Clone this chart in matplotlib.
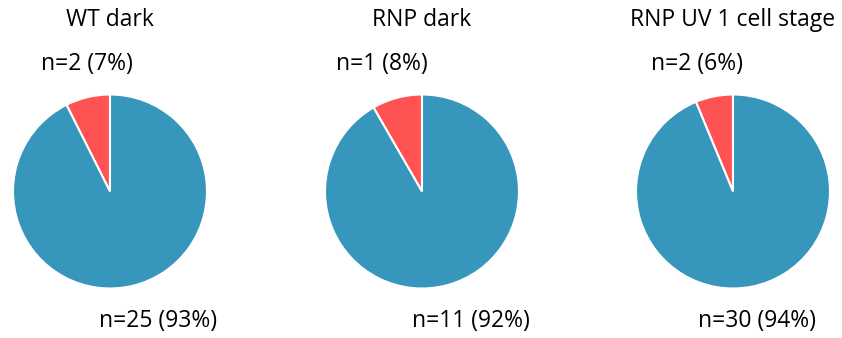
import matplotlib
matplotlib.use("Agg")
import matplotlib.pyplot as plt

plt.rcParams["font.family"] = ["Open Sans", "DejaVu Sans"]

W, H = 842, 338

TITLES = ["WT dark", "RNP dark", "RNP UV 1 cell stage"]
N_RED = [2, 1, 2]
N_BLUE = [25, 11, 30]
PCT_RED = [7, 8, 6]
PCT_BLUE = [93, 92, 94]

RED = "#FF5252"
BLUE = "#3796BB"

# pie centres / label anchors in pixels (x from left, y from top)
CENTERS_X = [110, 422, 733]
CENTER_Y = 191.5
RADIUS = 97
TOP_LABEL_X = [87, 381.5, 697]
BOT_LABEL_X = [158.5, 471, 757.5]
FS = 16.5

fig = plt.figure(figsize=(W / 100, H / 100), dpi=100)

for i, title in enumerate(TITLES):
    cx = CENTERS_X[i]
    ax = fig.add_axes([(cx - RADIUS) / W, (H - CENTER_Y - RADIUS) / H,
                       2 * RADIUS / W, 2 * RADIUS / H])
    ax.pie([N_RED[i], N_BLUE[i]], colors=[RED, BLUE], startangle=90,
           counterclock=True, radius=1,
           wedgeprops=dict(edgecolor="white", linewidth=1.5))
    ax.set_xlim(-1, 1)
    ax.set_ylim(-1, 1)
    ax.set_aspect("equal")
    ax.axis("off")

    fig.text(cx / W, 1 - 20.5 / H, title, ha="center", va="center", fontsize=FS)
    fig.text(TOP_LABEL_X[i] / W, 1 - 64.5 / H,
             f"n={N_RED[i]} ({PCT_RED[i]}%)", ha="center", va="center", fontsize=FS)
    fig.text(BOT_LABEL_X[i] / W, 1 - 321 / H,
             f"n={N_BLUE[i]} ({PCT_BLUE[i]}%)", ha="center", va="center", fontsize=FS)

fig.savefig("out.png", dpi=100)
